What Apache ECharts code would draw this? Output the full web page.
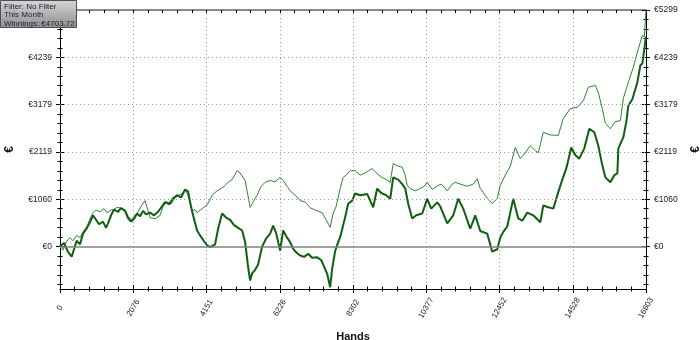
<!DOCTYPE html>
<html><head><meta charset="utf-8">
<script src="https://cdn.jsdelivr.net/npm/echarts@6/dist/echarts.min.js"></script>
<style>html,body{margin:0;padding:0;background:#fff}#c{width:700px;height:340px}</style>
</head><body><div id="c"></div>
<script>
// Winnings (thick line)
const handsWin = [
  0,113,227,332,397,473,567,652,765,850,
  935,1021,1106,1219,1304,1361,1446,1531,1644,1729,
  1843,1928,2013,2098,2183,2268,2353,2438,2551,2665,
  2778,2892,2977,3090,3204,3317,3430,3544,3629,3685,
  3770,3884,3969,4082,4167,4253,4309,4394,4479,4593,
  4706,4820,4933,5046,5160,5245,5330,5387,5443,5528,
  5613,5727,5840,5954,6039,6124,6237,6322,6435,6521,
  6606,6719,6804,6917,7031,7144,7286,7399,7484,7569,
  7655,7711,7796,7881,7938,8080,8165,8278,8363,8505,
  8703,8874,8987,9100,9242,9356,9441,9582,9696,9781,
  9866,9979,10093,10263,10404,10518,10688,10773,10971,11142,
  11283,11425,11624,11765,11907,12105,12247,12389,12474,12559,
  12672,12842,12984,13097,13239,13409,13608,13693,13835,13977,
  14118,14232,14345,14486,14600,14713,14855,14997,15139,15252,
  15366,15451,15593,15706,15791,15820,15961,16046,16103,16216,
  16358,16443,16500,16603
];
const winnings = [
  0,80,-120,-225,-60,130,50,290,420,545,
  700,600,500,560,420,520,700,830,780,860,
  800,640,560,620,740,680,800,720,760,700,
  780,900,1000,950,1080,1150,1100,1280,1230,1000,
  700,360,250,120,30,-10,20,50,400,740,
  650,600,480,420,360,100,-460,-760,-600,-520,
  -400,0,180,290,470,300,-90,360,200,100,
  -50,-150,-200,-230,-160,-250,-240,-300,-450,-610,
  -910,-500,-100,100,210,660,960,1030,1190,1150,
  1180,880,1300,1200,1150,1070,1550,1500,1400,1300,
  960,630,700,740,1070,850,990,900,520,700,
  1070,850,400,700,350,290,-115,-60,200,330,
  450,1070,630,580,760,700,545,920,880,850,
  1220,1500,1750,2220,2050,1970,2200,2640,2560,2260,
  1820,1550,1440,1600,1640,2200,2450,2800,3160,3300,
  3680,4060,4100,4703.72
];
// Second (thin) line
const handsAlt = [
  0,85,170,284,369,473,567,652,765,850,
  935,1021,1134,1247,1332,1446,1531,1616,1729,1843,
  1928,2013,2098,2183,2296,2410,2495,2551,2693,2835,
  2920,3033,3147,3260,3374,3487,3544,3629,3742,3827,
  3884,4026,4167,4309,4451,4621,4763,4876,5018,5103,
  5245,5387,5472,5585,5698,5812,5954,6096,6237,6322,
  6435,6521,6662,6804,6946,7088,7286,7428,7541,7655,
  7740,7825,7938,8023,8108,8222,8363,8505,8647,8845,
  8959,9100,9242,9356,9441,9582,9696,9781,9837,9923,
  10064,10206,10319,10404,10546,10688,10801,10971,11113,11198,
  11340,11538,11709,11822,11907,12020,12105,12247,12389,12474,
  12616,12758,12899,13041,13183,13325,13466,13551,13693,13892,
  14118,14260,14459,14657,14828,14969,15168,15252,15366,15451,
  15593,15734,15876,15961,16103,16244,16386,16500,16557,16603
];
const altWinnings = [
  0,-80,100,200,130,250,200,320,450,620,
  760,820,780,850,760,820,830,880,860,820,
  680,600,680,740,900,1030,800,650,620,700,
  900,1000,950,1100,1150,1200,1280,1150,800,830,
  760,850,930,1150,1250,1330,1440,1500,1700,1650,
  1480,880,1000,1150,1350,1440,1480,1450,1550,1480,
  1350,1250,1150,1030,1000,870,800,760,600,430,
  750,900,1300,1550,1600,1700,1700,1600,1650,1750,
  1650,1560,1500,1440,1860,1800,1780,1600,1370,1300,
  1250,1300,1350,1440,1280,1360,1400,1250,1400,1440,
  1400,1350,1400,1520,1300,1180,1080,960,1080,1370,
  1600,1800,2220,1970,2100,2260,2150,2100,2560,2500,
  2490,2870,3090,3120,3270,3570,3610,3450,3090,2760,
  2640,2800,2820,3320,3680,4020,4430,4730,4700,5299
];
const xTickLabels = ['0','2076','4151','6226','8302','10377','12452','14528','16603'];
const yTickValues = [0,1060,2119,3179,4239,5299];
const yTickLabels = ['€0','€1060','€2119','€3179','€4239','€5299'];
const legendLines = ['Filter: No Filter','This Month','Winnings: €4703.72'];

const X_MAX = 16603, X_INT = X_MAX / 8, Y_MIN = -950, Y_MAX = 5299;
const FONT = 'Liberation Sans, Arial, sans-serif';

const yMinor = [];
for (let i = 0; i < yTickValues.length - 1; i++) {
  const a = yTickValues[i], b = yTickValues[i + 1];
  for (let k = 1; k < 5; k++) yMinor.push(a + (b - a) * k / 5);
}
const yStep = (yTickValues[1] - yTickValues[0]) / 5;
for (let v = -yStep; v > Y_MIN; v -= yStep) yMinor.push(v);

function yAx(pos, ticks, inside, len, main) {
  return {
    type: 'value', position: pos, min: Y_MIN, max: Y_MAX,
    axisLine: { show: main, onZero: false, lineStyle: { color: '#000', width: 1 } },
    axisTick: { show: true, inside: inside, length: len, customValues: ticks, lineStyle: { color: '#000', width: 1 } },
    axisLabel: {
      show: main, customValues: yTickValues, margin: 8,
      formatter: v => yTickLabels[yTickValues.indexOf(v)],
      fontFamily: FONT, fontSize: 8.5, color: '#222',
      align: pos === 'left' ? 'right' : 'left'
    },
    splitLine: { show: false },
    name: main ? '€' : '', nameLocation: 'middle', nameGap: 44, nameRotate: 90,
    nameTextStyle: { fontFamily: FONT, fontWeight: 'bold', fontSize: 12, color: '#111' }
  };
}
function xAx(pos, inside, len, minorLen, main, lineColor, lineWidth) {
  return {
    type: 'value', position: pos, min: 0, max: X_MAX, interval: X_INT,
    axisLine: { show: !!lineColor, onZero: false, lineStyle: { color: lineColor || '#000', width: lineWidth || 1 } },
    axisTick: { show: true, inside: inside, length: len, lineStyle: { color: '#000', width: 1 } },
    minorTick: { show: true, splitNumber: 5, length: minorLen, lineStyle: { color: '#000', width: 1 } },
    axisLabel: {
      show: main, rotate: 60, align: 'center', verticalAlign: 'middle', margin: 19,
      formatter: v => xTickLabels[Math.round(v / X_INT)],
      fontFamily: FONT, fontSize: 8, color: '#222', showMinLabel: true, showMaxLabel: true
    },
    splitLine: { show: main, lineStyle: { color: '#9a9a9a', type: [1, 3], width: 1 } },
    name: main ? 'Hands' : '', nameLocation: 'middle', nameGap: 42,
    nameTextStyle: { fontFamily: FONT, fontWeight: 'bold', fontSize: 11, color: '#111' }
  };
}

const chart = echarts.init(document.getElementById('c'), null, { renderer: 'canvas' });
chart.setOption({
  animation: false,
  backgroundColor: '#fff',
  grid: { left: 60, right: 54, top: 10, bottom: 51, containLabel: false, outerBoundsMode: 'none' },
  xAxis: [
    xAx('bottom', false, 4, 2.5, true, '#000', 1),
    xAx('bottom', true, 4, 2.5, false, null, 1),
    xAx('top', true, 3, 3, false, '#8a8a8a', 2)
  ],
  yAxis: [
    yAx('left', yTickValues, false, 4, true),
    yAx('left', yTickValues, true, 4, false),
    yAx('left', yMinor, false, 2.5, false),
    yAx('left', yMinor, true, 2.5, false),
    yAx('right', yTickValues, false, 4, true),
    yAx('right', yTickValues, true, 4, false),
    yAx('right', yMinor, false, 2.5, false),
    yAx('right', yMinor, true, 2.5, false)
  ],
  series: [
    {
      type: 'line', data: [], z: 1, silent: true,
      markLine: {
        silent: true, symbol: ['none', 'none'], label: { show: false },
        data: [
          { yAxis: yTickValues[1], lineStyle: { color: '#9a9a9a', type: [1, 3], width: 1 } },
          { yAxis: yTickValues[2], lineStyle: { color: '#9a9a9a', type: [1, 3], width: 1 } },
          { yAxis: yTickValues[3], lineStyle: { color: '#9a9a9a', type: [1, 3], width: 1 } },
          { yAxis: yTickValues[4], lineStyle: { color: '#9a9a9a', type: [1, 3], width: 1 } },
          { yAxis: 0, lineStyle: { color: '#808080', type: 'solid', width: 1.6 } }
        ],
        emphasis: { disabled: true }
      }
    },
    {
      type: 'line', z: 3, showSymbol: false, symbol: 'none',
      data: handsAlt.map((h, i) => [h, altWinnings[i]]),
      lineStyle: { color: '#2e862e', width: 1 }
    },
    {
      type: 'line', z: 4, showSymbol: false, symbol: 'none',
      data: handsWin.map((h, i) => [h, winnings[i]]),
      lineStyle: { color: '#105f10', width: 2 }
    }
  ],
  graphic: [{
    type: 'group', left: 0, top: 0, z: 100, zlevel: 1,
    children: [
      { type: 'rect', z: 100, zlevel: 1, shape: { x: 0.5, y: 0.5, width: 76, height: 27 },
        style: { fill: new echarts.graphic.LinearGradient(0, 0, 0, 1, [
          { offset: 0, color: '#d6d6d6' }, { offset: 1, color: '#8e8e8e' }]),
          stroke: '#4e4e4e', lineWidth: 1 } },
      { type: 'text', z: 101, zlevel: 1, x: 4, y: 2,
        style: { text: legendLines.join('\n'), font: '8px ' + FONT, fill: '#1c1c3c', lineHeight: 8.6 } }
    ]
  }]
});
</script></body></html>
